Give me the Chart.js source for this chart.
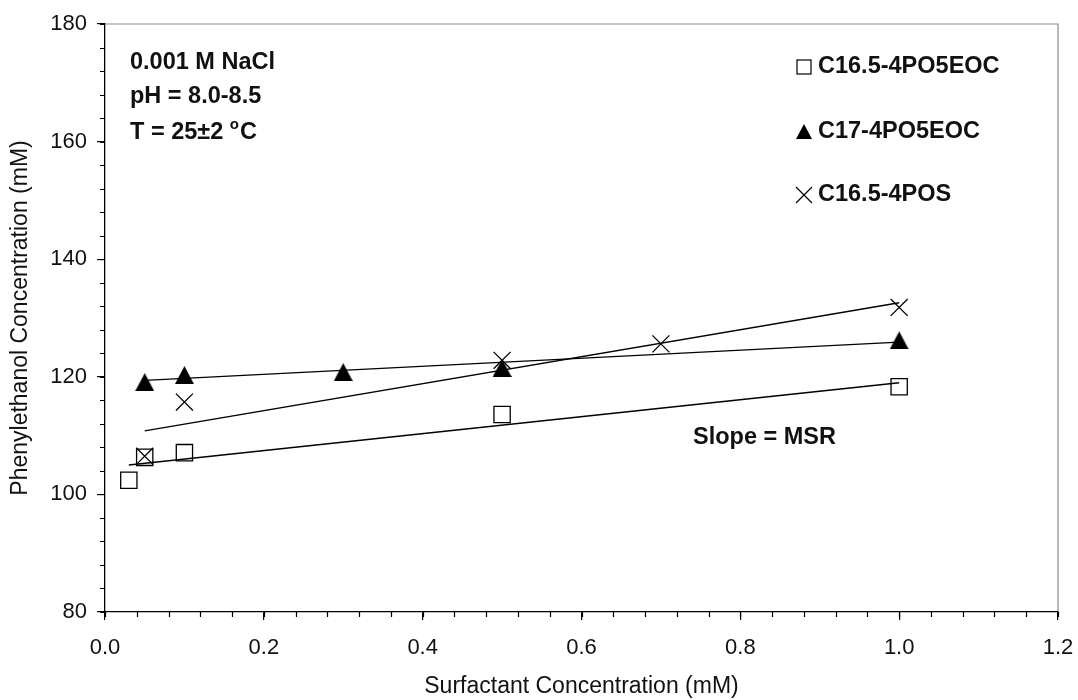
<!DOCTYPE html>
<html>
<head>
<meta charset="utf-8">
<title>Phenylethanol solubilization</title>
<script src="https://cdn.jsdelivr.net/npm/chart.js@4.4.0/dist/chart.umd.min.js"></script>
<style>
    html, body { margin: 0; padding: 0; background: #fff; }
    #wrap { width: 1078px; height: 700px; }
</style>
</head>
<body>
<div id="wrap"><canvas id="msrChart" width="1078" height="700"></canvas></div>
<script>
'use strict';

// Values (surfactant mM -> phenylethanol mM)
const squareX = [0.03, 0.05, 0.1, 0.5, 1.0];
const squareY = [102.4, 106.3, 107.1, 113.6, 118.3];
const triangleX = [0.05, 0.1, 0.3, 0.5, 1.0];
const triangleY = [119.1, 120.3, 120.8, 121.5, 126.2];
const crossX = [0.05, 0.1, 0.5, 0.7, 1.0];
const crossY = [106.5, 115.7, 122.8, 125.6, 131.8];

// Linear trend lines, end points as drawn
const squareFitX = [0.03, 1.0];
const squareFitY = [105.0, 119.0];
const triangleFitX = [0.05, 1.0];
const triangleFitY = [119.4, 125.9];
const crossFitX = [0.05, 1.0];
const crossFitY = [110.8, 132.6];

const seriesNames = ['C16.5-4PO5EOC', 'C17-4PO5EOC', 'C16.5-4POS'];
const conditionLines = ['0.001 M NaCl', 'pH = 8.0-8.5', 'T = 25\u00b12 '];
const slopeNote = 'Slope = MSR';
const xTicks = [0, 0.2, 0.4, 0.6, 0.8, 1.0, 1.2];
const yTicks = [80, 100, 120, 140, 160, 180];
const xTitle = 'Surfactant Concentration (mM)';
const yTitle = 'Phenylethanol Concentration (mM)';

const FONT = '"Liberation Sans", Arial, sans-serif';

function toPoints(xs, ys) {
    return xs.map(function(x, i) { return { x: x, y: ys[i] }; });
}

// filled triangle centred on its box (Chart.js draws canvas styles centred)
function triangleMark(w, h) {
    const c = document.createElement('canvas');
    c.width = w;
    c.height = h;
    const g = c.getContext('2d');
    g.fillStyle = '#000';
    g.beginPath();
    g.moveTo(w / 2, 0);
    g.lineTo(w, h);
    g.lineTo(0, h);
    g.closePath();
    g.fill();
    return c;
}

function fitLine(xs, ys) {
    return {
        type: 'scatter',
        data: toPoints(xs, ys),
        showLine: true,
        borderColor: '#000',
        borderWidth: 1.4,
        pointRadius: 0,
        pointHoverRadius: 0,
        fill: false
    };
}

// frame, minor ticks, notes and legend
const decorations = {
    id: 'decorations',
    beforeDraw: function(chart) {
        const ctx = chart.ctx;
        ctx.save();
        ctx.fillStyle = '#fff';
        ctx.fillRect(0, 0, chart.width, chart.height);
        const a = chart.chartArea;
        ctx.strokeStyle = '#8c8c8c';
        ctx.lineWidth = 1.2;
        ctx.beginPath();
        ctx.moveTo(a.left, a.top);
        ctx.lineTo(a.right, a.top);
        ctx.lineTo(a.right, a.bottom);
        ctx.stroke();
        ctx.restore();
    },
    afterDraw: function(chart) {
        const ctx = chart.ctx;
        const xs = chart.scales.x;
        const ys = chart.scales.y;
        const a = chart.chartArea;
        ctx.save();

        // minor ticks
        ctx.strokeStyle = '#000';
        ctx.lineWidth = 1.2;
        ctx.beginPath();
        for (let v = 0; v <= 1.2001; v += 0.04) {
            const px = Math.round(xs.getPixelForValue(v)) + 0.5;
            ctx.moveTo(px, a.bottom);
            ctx.lineTo(px, a.bottom + 5);
        }
        for (let v = 80; v <= 180; v += 4) {
            const py = Math.round(ys.getPixelForValue(v)) + 0.5;
            ctx.moveTo(a.left, py);
            ctx.lineTo(a.left - 5, py);
        }
        ctx.stroke();

        // experimental conditions
        ctx.fillStyle = '#111';
        ctx.textBaseline = 'middle';
        ctx.textAlign = 'left';
        ctx.font = 'bold 23.5px ' + FONT;
        const noteY = [63, 97, 133];
        conditionLines.forEach(function(t, i) {
            ctx.fillText(t, 130, noteY[i]);
        });
        let tx = 130 + ctx.measureText(conditionLines[2]).width;
        ctx.font = 'bold 15px ' + FONT;
        ctx.fillText('o', tx, noteY[2] - 8);
        tx += ctx.measureText('o').width + 1;
        ctx.font = 'bold 23.5px ' + FONT;
        ctx.fillText('C', tx, noteY[2]);

        ctx.fillText(slopeNote, 693, 438);

        // legend
        const legY = [67, 132, 195];
        const mx = 804;
        ctx.lineWidth = 1.2;
        ctx.strokeStyle = '#000';
        ctx.strokeRect(mx - 7, legY[0] - 7, 14, 14);
        ctx.drawImage(triangleMark(16, 15), mx - 8, legY[1] - 8);
        ctx.beginPath();
        ctx.moveTo(mx - 8, legY[2] - 8);
        ctx.lineTo(mx + 8, legY[2] + 8);
        ctx.moveTo(mx + 8, legY[2] - 8);
        ctx.lineTo(mx - 8, legY[2] + 8);
        ctx.stroke();
        seriesNames.forEach(function(name, i) {
            ctx.fillText(name, 818, legY[i]);
        });
        ctx.restore();
    }
};

document.addEventListener('DOMContentLoaded', function() {
    if (typeof Chart === 'undefined') {
        console.error('Chart.js is not loaded!');
        return;
    }

    const ctx = document.getElementById('msrChart').getContext('2d');

    new Chart(ctx, {
        type: 'scatter',
        data: {
            datasets: [
                fitLine(squareFitX, squareFitY),
                fitLine(triangleFitX, triangleFitY),
                fitLine(crossFitX, crossFitY),
                {
                    label: seriesNames[0],
                    data: toPoints(squareX, squareY),
                    pointStyle: 'rect',
                    pointRadius: 11.5,
                    borderColor: '#000',
                    backgroundColor: 'rgba(0,0,0,0)',
                    borderWidth: 1.3
                },
                {
                    label: seriesNames[1],
                    data: toPoints(triangleX, triangleY),
                    pointStyle: triangleMark(19, 18),
                    pointRadius: 10,
                    borderColor: '#000',
                    backgroundColor: '#000'
                },
                {
                    label: seriesNames[2],
                    data: toPoints(crossX, crossY),
                    pointStyle: 'crossRot',
                    pointRadius: 12,
                    borderColor: '#000',
                    borderWidth: 1.3
                }
            ]
        },
        options: {
            responsive: false,
            animation: false,
            devicePixelRatio: 1,
            layout: { padding: { left: 0, top: 24, right: 20, bottom: 0 } },
            plugins: {
                legend: { display: false },
                tooltip: { enabled: false }
            },
            scales: {
                x: {
                    type: 'linear',
                    min: 0,
                    max: 1.2,
                    afterBuildTicks: function(s) { s.ticks = xTicks.map(function(v) { return { value: v }; }); },
                    afterFit: function(s) {
                        s.height = 88;
                        s.paddingLeft = 0;
                        s.paddingRight = 0;
                    },
                    border: { display: true, color: '#000', width: 1.3 },
                    grid: { display: true, drawOnChartArea: false, drawTicks: true, tickLength: 8, color: '#000', lineWidth: 1.2 },
                    ticks: {
                        color: '#111',
                        padding: 15,
                        maxRotation: 0,
                        font: { family: FONT, size: 22 },
                        callback: function(v) { return Number(v).toFixed(1); }
                    },
                    title: {
                        display: true,
                        text: xTitle,
                        color: '#111',
                        font: { family: FONT, size: 23 },
                        padding: { top: 0, bottom: 0 }
                    }
                },
                y: {
                    type: 'linear',
                    min: 80,
                    max: 180,
                    afterBuildTicks: function(s) { s.ticks = yTicks.map(function(v) { return { value: v }; }); },
                    afterFit: function(s) {
                        s.width = 105;
                        s.paddingTop = 0;
                        s.paddingBottom = 0;
                    },
                    border: { display: true, color: '#000', width: 1.3 },
                    grid: { display: true, drawOnChartArea: false, drawTicks: true, tickLength: 8, color: '#000', lineWidth: 1.2 },
                    ticks: {
                        color: '#111',
                        padding: 10,
                        font: { family: FONT, size: 22 }
                    },
                    title: {
                        display: true,
                        text: yTitle,
                        color: '#111',
                        font: { family: FONT, size: 23 },
                        padding: { top: 7, bottom: 0 }
                    }
                }
            }
        },
        plugins: [decorations]
    });
});
</script>
</body>
</html>
